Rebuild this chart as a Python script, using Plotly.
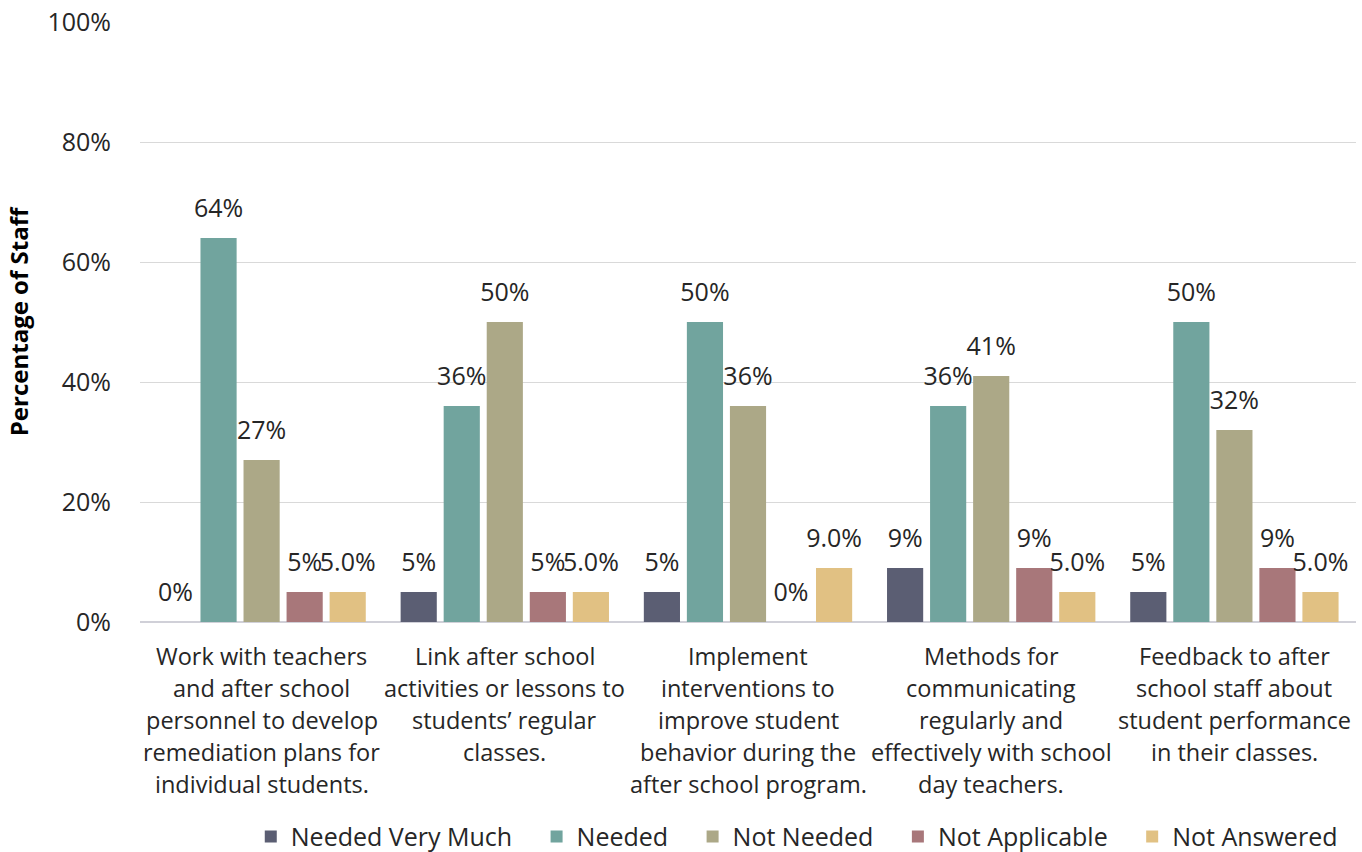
import plotly.graph_objects as go

# Survey items (x categories), wrapped onto lines for the axis labels
categories = ["Remediation plans", "Link activities", "Interventions", "Communicating", "Feedback"]
category_lines = [
    ["Work with teachers", "and after school", "personnel to develop", "remediation plans for", "individual students."],
    ["Link after school", "activities or lessons to", "students\u2019 regular", "classes."],
    ["Implement", "interventions to", "improve student", "behavior during the", "after school program."],
    ["Methods for", "communicating", "regularly and", "effectively with school", "day teachers."],
    ["Feedback to after", "school staff about", "student performance", "in their classes."],
]

# Response series (percentage of staff)
series_names = ["Needed Very Much", "Needed", "Not Needed", "Not Applicable", "Not Answered"]
needed_very_much = [0, 5, 5, 9, 5]
needed = [64, 36, 50, 36, 50]
not_needed = [27, 50, 36, 41, 32]
not_applicable = [5, 5, 0, 9, 9]
not_answered = [5.0, 5.0, 9.0, 5.0, 5.0]

series_values = [needed_very_much, needed, not_needed, not_applicable, not_answered]
series_colors = ["#5b5e73", "#71a49e", "#aca887", "#a8777a", "#e1c183"]
label_formats = ["{:.0f}%", "{:.0f}%", "{:.0f}%", "{:.0f}%", "{:.1f}%"]

FONT = "Open Sans"
TEXT_COLOR = "#262626"
NBSP = "\u00a0"

fig = go.Figure()
for k, (name, vals, color, fmt) in enumerate(zip(series_names, series_values, series_colors, label_formats)):
    legend_name = name if k == len(series_names) - 1 else name + NBSP * 3
    fig.add_trace(go.Bar(
        name=legend_name,
        x=categories,
        y=vals,
        offsetgroup=name,
        marker=dict(color=color, line=dict(width=0)),
        hoverinfo="skip",
    ))
    # value labels, grouped into the same slots as the bars
    fig.add_trace(go.Scatter(
        x=categories,
        y=vals,
        offsetgroup=name,
        mode="markers+text",
        text=[fmt.format(v) for v in vals],
        textposition="top center",
        textfont=dict(family=FONT, size=25, color=TEXT_COLOR),
        marker=dict(size=22, opacity=0),
        cliponaxis=False,
        showlegend=False,
        hoverinfo="skip",
    ))

# Multi-line category labels under each group
annotations = []
for cat, lines in zip(categories, category_lines):
    for i, line in enumerate(lines):
        annotations.append(dict(
            x=cat, y=0, xref="x", yref="y",
            text=line, showarrow=False,
            yanchor="middle", xanchor="center",
            yshift=-34 - i * 32,
            font=dict(family=FONT, size=23.5, color=TEXT_COLOR),
        ))

fig.update_layout(
    width=1362, height=852,
    margin=dict(l=140, r=6, t=22, b=230, autoexpand=False),
    paper_bgcolor="white",
    plot_bgcolor="white",
    barmode="group",
    bargap=0.115,
    bargroupgap=0.16,
    scattermode="group",
    scattergap=0.115,
    showlegend=True,
    legend=dict(
        orientation="h",
        x=0.585, xref="container", xanchor="center",
        y=0.018, yref="container", yanchor="middle",
        font=dict(family=FONT, size=25, color=TEXT_COLOR),
        itemsizing="constant",
        traceorder="normal",
    ),
    annotations=annotations,
    xaxis=dict(
        showticklabels=False,
        showgrid=False,
        showline=False,
        zeroline=False,
    ),
    yaxis=dict(
        range=[0, 100],
        dtick=20,
        ticksuffix="%",
        showgrid=True,
        gridcolor="#d9d9d9",
        gridwidth=1,
        zeroline=True,
        zerolinecolor="#d0d0d8",
        zerolinewidth=2,
        tickfont=dict(family=FONT, size=25, color=TEXT_COLOR),
        ticks="",
        ticklabelstandoff=28,
        title=dict(
            text="<b>Percentage of Staff</b>",
            font=dict(family=FONT, size=24, color="#000000"),
            standoff=12,
        ),
    ),
)

fig.write_html("out.html")
